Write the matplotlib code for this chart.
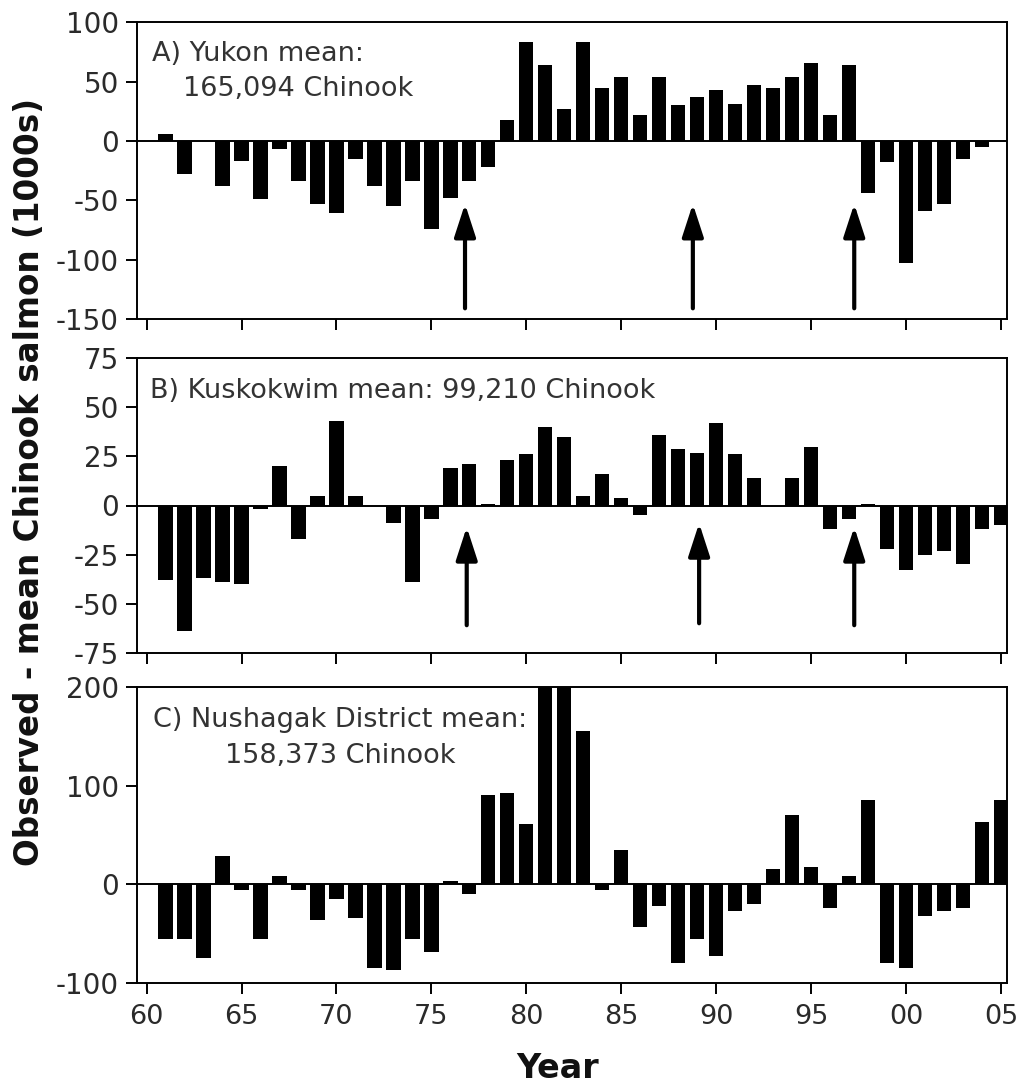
import matplotlib
matplotlib.use("Agg")
import matplotlib.pyplot as plt
from matplotlib.patches import ArrowStyle

# Return years
years = list(range(1961, 2006))

# Observed minus long-term mean Chinook salmon (thousands of fish)
yukon = [6, -28, 0, -38, -17, -49, -7, -34, -53, -61,
         -15, -38, -55, -34, -74, -48, -34, -22, 18, 83,
         64, 27, 83, 45, 54, 22, 54, 30, 37, 43,
         31, 47, 45, 54, 66, 22, 64, -44, -18, -103,
         -59, -53, -15, -5, 0]
kuskokwim = [-38, -64, -37, -39, -40, -2, 20, -17, 5, 43,
             5, 0, -9, -39, -7, 19, 21, 1, 23, 26,
             40, 35, 5, 16, 4, -5, 36, 29, 27, 42,
             26, 14, 0, 14, 30, -12, -7, 1, -22, -33,
             -25, -23, -30, -12, -10]
nushagak = [-56, -56, -75, 29, -6, -56, 8, -6, -36, -15,
            -34, -85, -87, -56, -69, 3, -10, 91, 93, 61,
            225, 215, 156, -6, 35, -43, -22, -80, -56, -73,
            -27, -20, 15, 70, 17, -24, 8, 86, -80, -85,
            -32, -27, -24, 63, 86]

panel_titles = [["A) Yukon mean:", "165,094 Chinook"],
                ["B) Kuskokwim mean: 99,210 Chinook"],
                ["C) Nushagak District mean:", "158,373 Chinook"]]
y_ticks = [[-150, -100, -50, 0, 50, 100],
           [-75, -50, -25, 0, 25, 50, 75],
           [-100, 0, 100, 200]]
y_limits = [(-150, 100), (-75, 75), (-100, 200)]
x_ticks = [1960, 1965, 1970, 1975, 1980, 1985, 1990, 1995, 2000, 2005]
x_ticklabels = ["60", "65", "70", "75", "80", "85", "90", "95", "00", "05"]

# Regime-shift markers (year, arrow tip, arrow tail)
arrows_yukon = [(1976.77, -53, -141), (1988.77, -53, -141), (1997.27, -53, -141)]
arrows_kusko = [(1976.86, -11, -61), (1989.1, -9, -60), (1997.27, -11, -61)]

W, H = 1016, 1086
fig = plt.figure(figsize=(W / 100, H / 100), dpi=100)
fig.patch.set_facecolor("white")

# axes boxes in pixels: left, top, right, bottom
boxes = [(137, 22.3, 1006.7, 319.0),
         (137, 358.3, 1006.7, 652.7),
         (137, 687.3, 1006.7, 982.7)]

series = [yukon, kuskokwim, nushagak]
arrow_sets = [arrows_yukon, arrows_kusko, []]
tick_color = "#2a2a2a"

for i, (l, t, r, b) in enumerate(boxes):
    ax = fig.add_axes([l / W, 1 - b / H, (r - l) / W, (b - t) / H])
    ax.bar(years, series[i], width=0.75, color="black", edgecolor="none", zorder=2)
    ax.axhline(0, color="black", lw=1.4, zorder=3)
    ax.set_xlim(1959.494, 2005.30)
    ax.set_ylim(*y_limits[i])
    ax.set_yticks(y_ticks[i])
    ax.set_yticklabels([str(v) for v in y_ticks[i]])
    ax.set_xticks(x_ticks)
    if i == 2:
        ax.set_xticklabels(x_ticklabels)
    else:
        ax.set_xticklabels([])
    for s in ax.spines.values():
        s.set_linewidth(1.4)
    ax.tick_params(axis="both", direction="out", length=8, width=1.4,
                   colors="black", labelcolor=tick_color)
    ax.tick_params(axis="y", labelsize=20, pad=5)
    ax.tick_params(axis="x", labelsize=19.5, pad=7)
    style = ArrowStyle("-|>", head_length=2.0, head_width=0.65)
    for (xa, tip, tail) in arrow_sets[i]:
        ax.annotate("", xy=(xa, tip), xytext=(xa, tail),
                    arrowprops=dict(arrowstyle=style, color="black", lw=3.0,
                                    shrinkA=0, shrinkB=0, mutation_scale=10),
                    zorder=4)

text_color = "#333333"
fs = 19.5
fig.text(152 / W, 1 - 54 / H, panel_titles[0][0], fontsize=fs, color=text_color,
         ha="left", va="center")
fig.text(183 / W, 1 - 89 / H, panel_titles[0][1], fontsize=fs, color=text_color,
         ha="left", va="center")
fig.text(150 / W, 1 - 391 / H, panel_titles[1][0], fontsize=fs, color=text_color,
         ha="left", va="center")
fig.text(340 / W, 1 - 720 / H, panel_titles[2][0], fontsize=fs, color=text_color,
         ha="center", va="center")
fig.text(340 / W, 1 - 756 / H, panel_titles[2][1], fontsize=fs, color=text_color,
         ha="center", va="center")

fig.text(30 / W, 1 - 482 / H, "Observed - mean Chinook salmon (1000s)",
         rotation=90, fontsize=23.5, fontweight="bold", color="#111111",
         ha="center", va="center")
fig.text(558 / W, 1 - 1068 / H, "Year", fontsize=24, fontweight="bold",
         color="#111111", ha="center", va="center")

fig.savefig("out.png", dpi=100, facecolor="white")
